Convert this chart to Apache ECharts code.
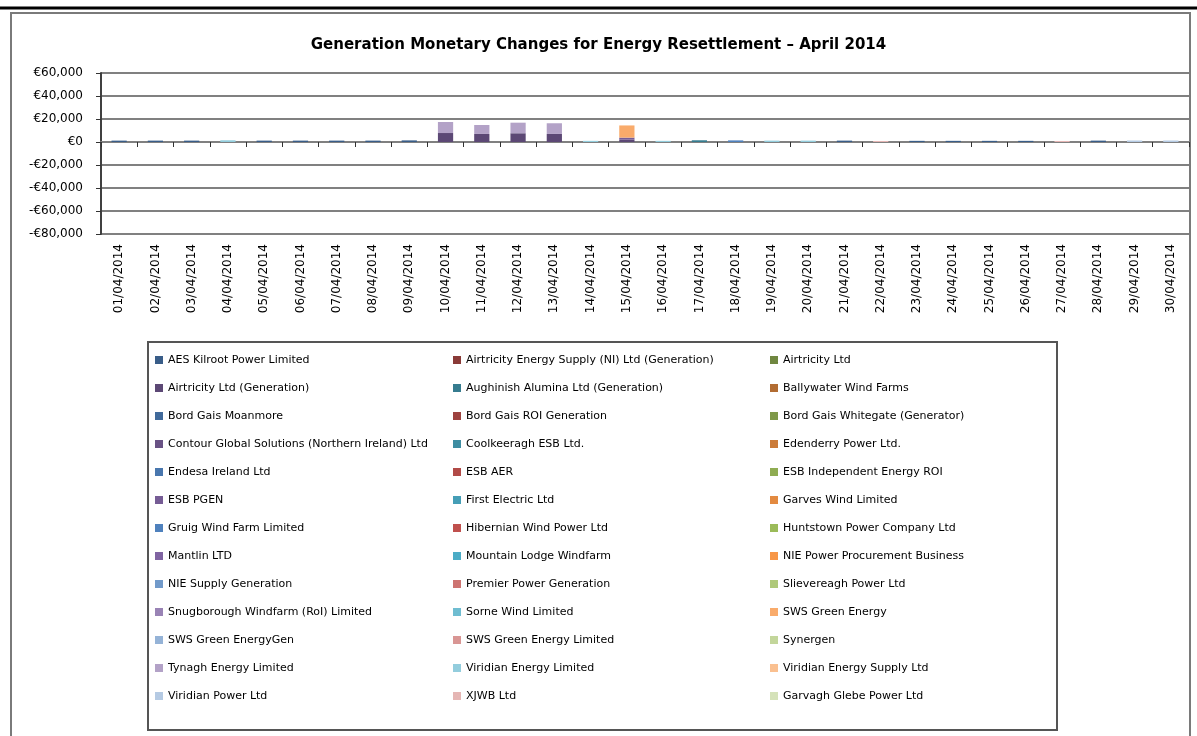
<!DOCTYPE html>
<html>
<head>
<meta charset="utf-8">
<script src="https://cdn.jsdelivr.net/npm/echarts@6/dist/echarts.min.js"></script>
<style>
  html, body { margin: 0; padding: 0; background: #fff; }
  #chart { width: 1197px; height: 736px; }
</style>
</head>
<body>
<div id="chart"></div>
<script>
// categories
const dates = [
  '01/04/2014', '02/04/2014', '03/04/2014', '04/04/2014', '05/04/2014', '06/04/2014',
  '07/04/2014', '08/04/2014', '09/04/2014', '10/04/2014', '11/04/2014', '12/04/2014',
  '13/04/2014', '14/04/2014', '15/04/2014', '16/04/2014', '17/04/2014', '18/04/2014',
  '19/04/2014', '20/04/2014', '21/04/2014', '22/04/2014', '23/04/2014', '24/04/2014',
  '25/04/2014', '26/04/2014', '27/04/2014', '28/04/2014', '29/04/2014', '30/04/2014'
]

const participants = [
  'AES Kilroot Power Limited', 'Airtricity Energy Supply (NI) Ltd (Generation)', 'Airtricity Ltd',
  'Airtricity Ltd (Generation)', 'Aughinish Alumina Ltd (Generation)', 'Ballywater Wind Farms',
  'Bord Gais Moanmore', 'Bord Gais ROI Generation', 'Bord Gais Whitegate (Generator)',
  'Contour Global Solutions (Northern Ireland) Ltd', 'Coolkeeragh ESB Ltd.', 'Edenderry Power Ltd.',
  'Endesa Ireland Ltd', 'ESB AER', 'ESB Independent Energy ROI',
  'ESB PGEN', 'First Electric Ltd', 'Garves Wind Limited',
  'Gruig Wind Farm Limited', 'Hibernian Wind Power Ltd', 'Huntstown Power Company Ltd',
  'Mantlin LTD', 'Mountain Lodge Windfarm', 'NIE Power Procurement Business',
  'NIE Supply Generation', 'Premier Power Generation', 'Slievereagh Power Ltd',
  'Snugborough Windfarm (RoI) Limited', 'Sorne Wind Limited', 'SWS Green Energy',
  'SWS Green EnergyGen', 'SWS Green Energy Limited', 'Synergen',
  'Tynagh Energy Limited', 'Viridian Energy Limited', 'Viridian Energy Supply Ltd',
  'Viridian Power Ltd', 'XJWB Ltd', 'Garvagh Glebe Power Ltd'
]

// values in euro, one per day
const aesKilroot =        [1200, 1200, 1200, 0, 1200, 1200, 1200, 1200, 1400, 0, 0, 0, 0, 0, 0, 0, 0, 0, 0, 0, 1200, 0, 1000, 1000, 1000, 1000, 0, 1200, 0, 0]
const airtricityGen =     [0, 0, 0, 0, 0, 0, 0, 0, 0, 7800, 7000, 7600, 7000, 0, 2000, 0, 0, 0, 0, 0, 0, 0, 0, 0, 0, 0, 0, 0, 0, 0]
const aughinish =         [0, 0, 0, 0, 0, 0, 0, 0, 0, 0, 0, 0, 0, 0, 0, 0, 1500, 0, 0, 0, 0, 0, 0, 0, 0, 0, 0, 0, 0, 0]
const esbPgen =           [0, 0, 0, 0, 0, 0, 0, 0, 0, 0, 0, 0, 0, 0, 1800, 0, 0, 0, 0, 0, 0, 0, 0, 0, 0, 0, 0, 0, 0, 0]
const gruigWind =         [0, 0, 0, 0, 0, 0, 0, 0, 0, 0, 0, 0, 0, 0, 0, 0, 0, 1400, 0, 0, 0, 0, 0, 0, 0, 0, 0, 0, 0, 0]
const swsGreen =          [0, 0, 0, 0, 0, 0, 0, 0, 0, 0, 0, 0, 0, 0, 10600, 0, 0, 0, 0, 0, 0, 0, 0, 0, 0, 0, 0, 0, 0, 0]
const tynagh =            [0, 0, 0, 0, 0, 0, 0, 0, 0, 9600, 7800, 9200, 9300, 0, 0, 0, 0, 0, 0, 0, 0, 0, 0, 0, 0, 0, 0, 0, 0, 0]
const viridianEnergyLtd = [0, 0, 0, 1500, 0, 0, 0, 0, 0, 0, 0, 0, 0, 1000, 0, 1000, 0, 0, 1200, 1200, 0, 0, 0, 0, 0, 0, 0, 0, 0, 0]
const viridianPower =     [0, 0, 0, 0, 0, 0, 0, 0, 0, 0, 0, 0, 0, 0, 0, 0, 0, 0, 0, 0, 0, 0, 0, 0, 0, 0, 0, 0, 1300, 1300]
const xjwb =              [0, 0, 0, 0, 0, 0, 0, 0, 0, 0, 0, 0, 0, 0, 0, 0, 0, 0, 0, 0, 0, 900, 0, 0, 0, 0, 900, 0, 0, 0]

// y axis ticks
const yMin = -80000
const yMax = 60000
const yStep = 20000

// participant index -> values
const valuesByIndex = {
  0: aesKilroot, 3: airtricityGen, 4: aughinish, 15: esbPgen, 18: gruigWind,
  29: swsGreen, 33: tynagh, 34: viridianEnergyLtd, 36: viridianPower, 37: xjwb
}

// excel-like palette: 6 hues, darker to lighter
const baseColors = [[79, 129, 189], [192, 80, 77], [155, 187, 89], [128, 100, 162], [75, 172, 198], [247, 150, 70]]
const shades = [-0.28, -0.18, -0.08, 0, 0.2, 0.4, 0.58]
function shadeColor(i) {
  const c = baseColors[i % 6]
  const s = shades[Math.floor(i / 6)]
  const rgb = c.map(v => Math.round(s < 0 ? v * (1 + s) : v + (255 - v) * s))
  return 'rgb(' + rgb.join(',') + ')'
}

function euro(v) {
  const n = Math.abs(v).toString().replace(/\B(?=(\d{3})+(?!\d))/g, ',')
  return (v < 0 ? '-€' : '€') + n
}

const series = participants.map((name, i) => ({
  name: name,
  type: 'bar',
  stack: 'total',
  xAxisIndex: 0,
  barCategoryGap: '58%',
  itemStyle: { color: shadeColor(i) },
  data: valuesByIndex[i] || []
}))

function legendColumn(col, left) {
  return {
    orient: 'vertical',
    left: left,
    top: 348,
    itemWidth: 8,
    itemHeight: 8,
    itemGap: 14,
    icon: 'rect',
    selectedMode: false,
    textStyle: { fontFamily: 'DejaVu Sans', fontSize: 11, color: '#000', lineHeight: 14 },
    data: participants.filter((n, i) => i % 3 === col)
  }
}

const chart = echarts.init(document.getElementById('chart'))
chart.setOption({
  animation: false,
  backgroundColor: '#fff',
  title: {
    text: 'Generation Monetary Changes for Energy Resettlement – April 2014',
    left: 'center',
    top: 33,
    textStyle: { fontFamily: 'DejaVu Sans', fontWeight: 'bold', fontSize: 15, color: '#000' }
  },
  legend: [legendColumn(0, 150), legendColumn(1, 448), legendColumn(2, 765)],
  grid: { left: 101, right: 8, top: 73, bottom: 502 },
  xAxis: [
    {
      type: 'category',
      data: dates,
      position: 'bottom',
      axisLine: { show: false, onZero: false },
      axisTick: { show: false },
      axisLabel: {
        interval: 0,
        rotate: 90,
        margin: 10,
        fontFamily: 'DejaVu Sans',
        fontSize: 12,
        color: '#000'
      }
    },
    {
      type: 'category',
      data: dates,
      position: 'bottom',
      axisLine: { show: true, onZero: true, lineStyle: { color: '#808080', width: 2 } },
      axisTick: { show: true, interval: 0, length: 5, lineStyle: { color: '#333', width: 1 } },
      axisLabel: { show: false, interval: 0 }
    }
  ],
  yAxis: {
    type: 'value',
    min: yMin,
    max: yMax,
    interval: yStep,
    axisLine: { show: true, lineStyle: { color: '#404040', width: 2 } },
    axisTick: { show: true, length: 5, lineStyle: { color: '#333' } },
    axisLabel: {
      margin: 18,
      fontFamily: 'DejaVu Sans',
      fontSize: 12,
      color: '#000',
      formatter: euro
    },
    splitLine: { show: true, lineStyle: { color: '#808080', width: 2 } }
  },
  graphic: [
    { type: 'line', shape: { x1: 0, y1: 8, x2: 1197, y2: 8 }, style: { stroke: '#000', lineWidth: 3 } },
    { type: 'rect', shape: { x: 11, y: 13, width: 1179, height: 740 }, style: { fill: null, stroke: '#7a7a7a', lineWidth: 2 }, z: -1 },
    { type: 'rect', shape: { x: 148, y: 342, width: 909, height: 388 }, style: { fill: null, stroke: '#555', lineWidth: 2 }, z: -1 }
  ],
  series: series
})
</script>
</body>
</html>
